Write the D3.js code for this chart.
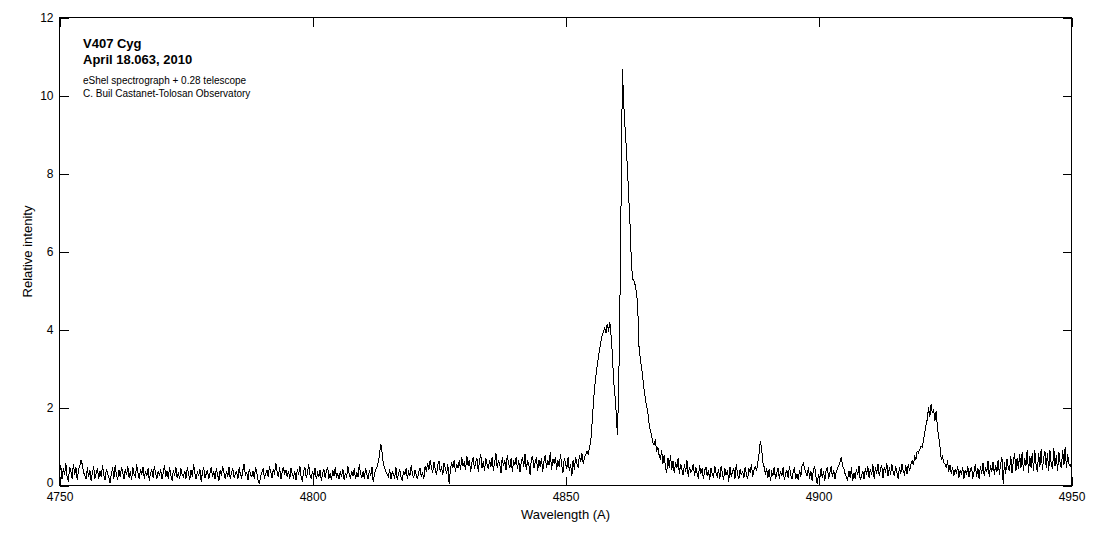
<!DOCTYPE html>
<html>
<head>
<meta charset="utf-8">
<script src="https://cdn.jsdelivr.net/npm/d3@7"></script>
<style>
  html, body { margin: 0; padding: 0; background: #fff; }
  svg { display: block; }
  text { font-family: "Liberation Sans", Arial, sans-serif; fill: #000; }
</style>
</head>
<body>
<svg id="chart" width="1093" height="537"></svg>
<script>
// ---- Data ----
const titleLines = ["V407 Cyg", "April 18.063, 2010"];
const noteLines = ["eShel spectrograph + 0.28 telescope", "C. Buil Castanet-Tolosan Observatory"];
const xLabel = "Wavelength (A)";
const yLabel = "Relative intenity";
const xTicks = [4750, 4800, 4850, 4900, 4950];
const yTicks = [0, 2, 4, 6, 8, 10, 12];
const xDomain = [4750, 4950];
const yDomain = [0, 12];
// spectrum sampled every 0.25 A starting at 4750 A
const wlStart = 4750;
const wlStep = 0.25;
const intensity = [
  0.30,0.52,0.16,0.44,0.26,0.58,0.22,0.10,0.48,0.36,0.18,0.56,0.28,0.46,0.14,0.40,0.50,0.66,0.54,0.34,
  0.26,0.16,0.46,0.22,0.40,0.12,0.32,0.50,0.18,0.30,0.44,0.16,0.38,0.22,0.52,0.28,0.14,0.42,0.32,0.20,
  0.06,0.30,0.46,0.18,0.52,0.28,0.14,0.40,0.22,0.48,0.32,0.16,0.42,0.26,0.50,0.20,0.36,0.14,0.46,0.28,
  0.22,0.54,0.34,0.16,0.42,0.28,0.48,0.18,0.36,0.24,0.44,0.12,0.32,0.40,0.20,0.50,0.30,0.16,0.38,0.24,
  0.42,0.16,0.32,0.52,0.22,0.36,0.18,0.46,0.28,0.12,0.40,0.24,0.48,0.20,0.34,0.16,0.44,0.28,0.22,0.38,
  0.18,0.46,0.30,0.14,0.40,0.22,0.54,0.32,0.16,0.36,0.24,0.42,0.10,0.34,0.46,0.20,0.30,0.40,0.16,0.32,
  0.48,0.22,0.36,0.16,0.44,0.28,0.12,0.40,0.24,0.50,0.32,0.18,0.38,0.22,0.46,0.16,0.34,0.42,0.20,0.30,
  0.36,0.16,0.46,0.28,0.20,0.40,0.56,0.24,0.34,0.14,0.42,0.28,0.22,0.38,0.18,0.48,0.32,0.12,0.06,0.24,
  0.34,0.44,0.18,0.30,0.40,0.22,0.50,0.34,0.20,0.42,0.28,0.58,0.36,0.22,0.46,0.16,0.34,0.48,0.28,0.40,
  0.22,0.38,0.16,0.44,0.30,0.20,0.36,0.14,0.42,0.28,0.50,0.22,0.10,0.38,0.46,0.20,0.32,0.54,0.28,0.18,
  0.38,0.22,0.44,0.16,0.32,0.22,0.40,0.12,0.30,0.42,0.20,0.36,0.48,0.18,0.32,0.14,0.40,0.24,0.46,0.20,
  0.30,0.16,0.36,0.22,0.42,0.14,0.32,0.20,0.50,0.28,0.18,0.38,0.24,0.44,0.16,0.34,0.22,0.54,0.30,0.20,
  0.36,0.18,0.44,0.28,0.16,0.40,0.24,0.48,0.08,0.30,0.40,0.48,0.60,0.80,1.07,0.84,0.56,0.44,0.36,0.28,
  0.22,0.42,0.16,0.36,0.28,0.20,0.46,0.14,0.32,0.40,0.22,0.12,0.38,0.28,0.44,0.18,0.34,0.24,0.52,0.30,
  0.20,0.40,0.28,0.16,0.36,0.44,0.22,0.34,0.18,0.50,0.36,0.58,0.40,0.64,0.46,0.32,0.60,0.42,0.26,0.54,
  0.62,0.34,0.50,0.26,0.58,0.44,0.30,0.54,0.04,0.40,0.60,0.46,0.66,0.34,0.56,0.44,0.64,0.40,0.72,0.50,
  0.58,0.40,0.76,0.50,0.66,0.34,0.60,0.72,0.42,0.60,0.70,0.36,0.64,0.80,0.46,0.62,0.38,0.70,0.54,0.42,
  0.66,0.48,0.74,0.38,0.60,0.82,0.44,0.66,0.54,0.32,0.72,0.50,0.64,0.40,0.78,0.56,0.44,0.70,0.36,0.62,
  0.54,0.74,0.42,0.66,0.34,0.60,0.72,0.48,0.80,0.40,0.64,0.54,0.28,0.68,0.76,0.44,0.60,0.72,0.38,0.66,
  0.48,0.70,0.36,0.62,0.78,0.44,0.66,0.52,0.86,0.40,0.68,0.56,0.74,0.40,0.64,0.48,0.80,0.54,0.32,0.70,
  0.58,0.42,0.72,0.38,0.56,0.24,0.66,0.40,0.74,0.56,0.46,0.78,0.60,0.82,0.56,0.72,0.80,0.88,0.78,0.98,
  1.15,1.60,2.10,2.50,2.80,3.05,3.30,3.50,3.70,3.85,3.95,4.05,3.90,4.15,3.95,4.20,3.85,3.40,2.70,2.35,
  1.90,1.30,2.40,4.60,7.50,10.67,9.80,9.20,8.70,8.10,7.40,6.70,5.80,5.30,5.25,5.15,4.95,4.70,3.60,3.30,
  3.05,2.80,2.50,2.25,2.05,1.90,1.60,1.42,1.30,1.10,1.05,1.18,0.86,0.98,0.78,0.66,0.92,0.56,0.78,0.46,
  0.33,0.70,0.46,0.78,0.40,0.62,0.32,0.60,0.44,0.70,0.30,0.56,0.42,0.26,0.54,0.36,0.64,0.22,0.48,0.34,
  0.40,0.54,0.24,0.48,0.32,0.18,0.52,0.30,0.44,0.16,0.38,0.48,0.24,0.40,0.14,0.44,0.30,0.20,0.50,0.32,
  0.24,0.42,0.18,0.50,0.32,0.14,0.44,0.26,0.40,0.10,0.48,0.22,0.36,0.44,0.18,0.54,0.30,0.16,0.42,0.26,
  0.38,0.20,0.48,0.28,0.16,0.44,0.32,0.54,0.22,0.40,0.48,0.38,0.58,0.82,1.15,0.95,0.60,0.48,0.28,0.44,
  0.20,0.42,0.12,0.34,0.26,0.48,0.16,0.32,0.44,0.18,0.38,0.24,0.46,0.14,0.30,0.40,0.20,0.50,0.28,0.16,
  0.36,0.44,0.18,0.30,0.14,0.40,0.22,0.50,0.56,0.44,0.34,0.24,0.46,0.18,0.36,0.12,0.42,0.48,0.22,0.04,
  0.30,0.16,0.44,0.20,0.36,0.12,0.38,0.46,0.18,0.32,0.50,0.22,0.40,0.16,0.34,0.44,0.50,0.60,0.72,0.50,
  0.44,0.30,0.22,0.14,0.38,0.20,0.46,0.12,0.32,0.18,0.42,0.26,0.50,0.14,0.24,0.38,0.16,0.44,0.28,0.50,
  0.20,0.42,0.26,0.54,0.16,0.46,0.30,0.56,0.24,0.42,0.52,0.20,0.48,0.32,0.58,0.24,0.46,0.28,0.54,0.36,
  0.24,0.50,0.34,0.18,0.48,0.30,0.56,0.36,0.28,0.52,0.30,0.56,0.38,0.54,0.64,0.52,0.74,0.66,0.88,0.84,
  0.92,1.00,0.98,1.15,1.36,1.55,1.70,2.00,1.75,2.08,1.85,1.95,1.65,1.90,1.50,1.25,1.00,0.67,0.75,0.58,
  0.56,0.44,0.64,0.36,0.52,0.30,0.48,0.24,0.42,0.30,0.50,0.20,0.40,0.28,0.48,0.18,0.40,0.26,0.50,0.22,
  0.40,0.48,0.18,0.36,0.54,0.22,0.44,0.16,0.50,0.30,0.58,0.24,0.46,0.34,0.62,0.22,0.52,0.36,0.60,0.28,
  0.52,0.34,0.66,0.28,0.56,0.72,0.05,0.60,0.30,0.68,0.46,0.38,0.76,0.32,0.62,0.84,0.36,0.70,0.42,0.80,
  0.44,0.86,0.36,0.70,0.50,0.92,0.32,0.76,0.46,0.82,0.38,0.90,0.52,0.34,0.84,0.48,0.94,0.40,0.72,0.88,
  0.46,0.82,0.38,0.90,0.54,0.42,0.96,0.50,0.78,0.36,0.86,0.58,0.44,0.92,0.52,0.98,0.46,0.80,0.56,0.50,
  0.60
];

// ---- Layout ----
const plot = { left: 59.5, right: 1071.5, top: 17.5, bottom: 485.5 };
const tickLen = 9;

const svg = d3.select("#chart");
const x = d3.scaleLinear().domain(xDomain).range([plot.left, plot.right]);
const y = d3.scaleLinear().domain(yDomain).range([plot.bottom, plot.top]);

const points = intensity.map((v, i) => ({ wl: wlStart + i * wlStep, v }));

// spectrum line
const line = d3.line().x(d => x(d.wl)).y(d => y(d.v));
svg.append("path")
  .datum(points)
  .attr("d", line)
  .attr("fill", "none")
  .attr("stroke", "#000")
  .attr("stroke-width", 1)
  .attr("shape-rendering", "crispEdges");

// axes (ticks inward, MATLAB-like box)
function styleAxis(g) {
  g.select(".domain").remove();
  g.selectAll("line").attr("stroke", "#000").attr("shape-rendering", "crispEdges");
  g.selectAll("text").style("font-family", '"Liberation Sans", Arial, sans-serif').style("font-size", "12px").attr("fill", "#000");
}
svg.append("g")
  .attr("transform", `translate(0,${plot.bottom})`)
  .call(d3.axisBottom(x).tickValues(xTicks).tickFormat(d3.format("d")).tickSizeInner(-tickLen).tickSizeOuter(0).tickPadding(7))
  .call(styleAxis);
svg.append("g")
  .attr("transform", `translate(0,${plot.top})`)
  .call(d3.axisTop(x).tickValues(xTicks).tickFormat("").tickSizeInner(-tickLen).tickSizeOuter(0))
  .call(styleAxis);
const yAxisG = svg.append("g")
  .attr("transform", `translate(${plot.left},0)`)
  .call(d3.axisLeft(y).tickValues(yTicks).tickFormat(d3.format("d")).tickSizeInner(-tickLen).tickSizeOuter(0).tickPadding(6))
  .call(styleAxis);
// nudge the "0" label up slightly so it does not collide with "4750"
yAxisG.selectAll(".tick text").filter(d => d === 0).attr("dy", "0.12em");
svg.append("g")
  .attr("transform", `translate(${plot.right},0)`)
  .call(d3.axisRight(y).tickValues(yTicks).tickFormat("").tickSizeInner(-tickLen).tickSizeOuter(0))
  .call(styleAxis);

// box
svg.append("rect")
  .attr("x", plot.left).attr("y", plot.top)
  .attr("width", plot.right - plot.left).attr("height", plot.bottom - plot.top)
  .attr("fill", "none").attr("stroke", "#000").attr("stroke-width", 1)
  .attr("shape-rendering", "crispEdges");

// axis labels
svg.append("text")
  .attr("x", (plot.left + plot.right) / 2).attr("y", 519)
  .attr("text-anchor", "middle").style("font-size", "13px")
  .text(xLabel);
svg.append("text")
  .attr("transform", `translate(32,${(plot.top + plot.bottom) / 2}) rotate(-90)`)
  .attr("text-anchor", "middle").style("font-size", "13px")
  .text(yLabel);

// annotations
titleLines.forEach((t, i) => {
  svg.append("text")
    .attr("x", 83).attr("y", 48 + i * 15.5)
    .style("font-size", "13px").style("font-weight", "bold")
    .text(t);
});
noteLines.forEach((t, i) => {
  svg.append("text")
    .attr("x", 83).attr("y", 83.5 + i * 13.5)
    .style("font-size", "10px")
    .text(t);
});
</script>
</body>
</html>
